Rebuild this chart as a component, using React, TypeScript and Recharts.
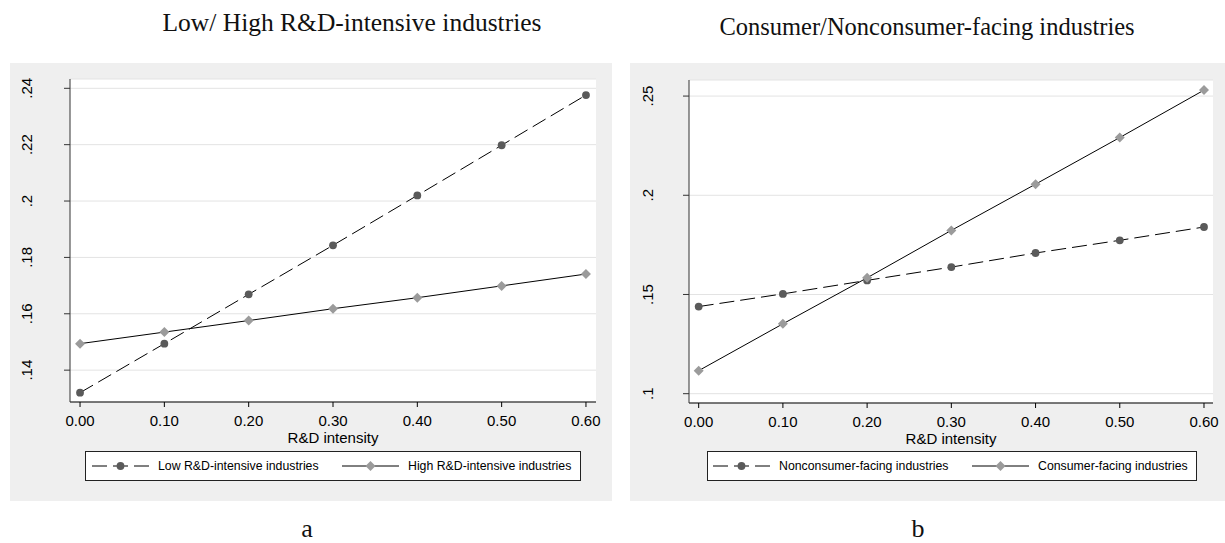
import React from 'react';
import { LineChart, Line, XAxis, YAxis, CartesianGrid } from 'recharts';

// R&D intensity grid used by both panels
const rdIntensity = [0, 0.1, 0.2, 0.3, 0.4, 0.5, 0.6];

// panel a
const lowRD = [0.132, 0.1494, 0.1669, 0.1843, 0.202, 0.2198, 0.2376];
const highRD = [0.1494, 0.1535, 0.1576, 0.1618, 0.1657, 0.1699, 0.1741];

// panel b
const nonConsumer = [0.1439, 0.1503, 0.1571, 0.1638, 0.1709, 0.1773, 0.184];
const consumer = [0.1116, 0.1352, 0.1584, 0.1823, 0.2056, 0.2291, 0.253];

const xTicks = [0, 0.1, 0.2, 0.3, 0.4, 0.5, 0.6];
const leftYTicks = [0.14, 0.16, 0.18, 0.2, 0.22, 0.24];
const rightYTicks = [0.1, 0.15, 0.2, 0.25];

const SANS = '"Liberation Sans", Arial, sans-serif';
const SERIF = '"Liberation Serif", "Times New Roman", serif';
const PANEL_BG = '#efefef';
const CIRCLE_FILL = '#5a5a5a';
const DIAMOND_FILL = '#9b9b9b';
const DASH = '15 6';

const toRows = (a: number[], b: number[]) =>
  rdIntensity.map((x, i) => ({ x, a: a[i], b: b[i] }));

const stataFmt = (v: number) => String(v).replace(/^0\./, '.');

const CircleDot = (props: any) => {
  const { cx, cy } = props;
  if (cx == null || cy == null) return null;
  return <circle cx={cx} cy={cy} r={3.9} fill={CIRCLE_FILL} />;
};

const DiamondDot = (props: any) => {
  const { cx, cy } = props;
  if (cx == null || cy == null) return null;
  const s = 5;
  return (
    <path
      d={`M${cx},${cy - s} L${cx + s},${cy} L${cx},${cy + s} L${cx - s},${cy} Z`}
      fill={DIAMOND_FILL}
    />
  );
};

const YTick = (props: any) => {
  const { x, y, payload } = props;
  return (
    <text
      x={x}
      y={y}
      transform={`rotate(-90, ${x}, ${y})`}
      textAnchor="middle"
      fontSize={15}
      fontFamily={SANS}
      fill="#000"
    >
      {stataFmt(payload.value)}
    </text>
  );
};

type LegendItem = { label: string; dashed: boolean; marker: 'circle' | 'diamond'; lineX: number; textX: number };

const LegendSample = ({ dashed, marker }: { dashed: boolean; marker: 'circle' | 'diamond' }) => (
  <svg width={57} height={12} style={{ position: 'absolute', left: 0, top: 8 }}>
    <line x1={0} y1={6} x2={57} y2={6} stroke="#000" strokeWidth={1} strokeDasharray={dashed ? DASH : undefined} />
    {marker === 'circle' ? <CircleDot cx={28.5} cy={6} /> : <DiamondDot cx={28.5} cy={6} />}
  </svg>
);

const LegendBox = ({ left, width, items }: { left: number; width: number; items: LegendItem[] }) => (
  <div
    style={{
      position: 'absolute',
      left,
      top: 388,
      width,
      height: 28,
      background: '#fff',
      border: '1px solid #222',
      fontFamily: SANS,
      fontSize: 12.3,
      color: '#000',
    }}
  >
    {items.map((it) => (
      <React.Fragment key={it.label}>
        <div style={{ position: 'absolute', left: it.lineX, top: 0, width: 57, height: 28 }}>
          <LegendSample dashed={it.dashed} marker={it.marker} />
        </div>
        <div style={{ position: 'absolute', left: it.textX, top: 7, whiteSpace: 'nowrap', lineHeight: '14px' }}>
          {it.label}
        </div>
      </React.Fragment>
    ))}
  </div>
);

type PanelProps = {
  left: number;
  width: number;
  plotLeft: number;
  plotRight: number;
  plotTop: number;
  xAxisHeight: number;
  yDomain: [number, number];
  yTicks: number[];
  yTickGap: number;
  xDomain: [number, number];
  data: { x: number; a: number; b: number }[];
  legendLeft: number;
  legendWidth: number;
  legendItems: LegendItem[];
  solidSeries: 'a' | 'b';
};

const PANEL_H = 438;

const Panel = (p: PanelProps) => (
  <div style={{ position: 'absolute', left: p.left, top: 63, width: p.width, height: PANEL_H, background: PANEL_BG }}>
    <LineChart
      width={p.width}
      height={PANEL_H}
      data={p.data}
      margin={{ top: p.plotTop, right: p.width - p.plotRight, left: 0, bottom: 0 }}
    >
      <CartesianGrid vertical={false} stroke="#e3e3e3" fill="#fff" />
      <XAxis
        dataKey="x"
        type="number"
        domain={p.xDomain}
        allowDataOverflow
        ticks={xTicks}
        tickFormatter={(v: number) => v.toFixed(2)}
        height={p.xAxisHeight}
        tickSize={5}
        tickMargin={8}
        stroke="#000"
        tick={{ fill: '#000', fontSize: 15, fontFamily: SANS }}
        label={{ value: 'R&D intensity', position: 'insideTop', offset: 30, fill: '#000', fontSize: 15, fontFamily: SANS }}
      />
      <YAxis
        type="number"
        domain={p.yDomain}
        allowDataOverflow
        ticks={p.yTicks}
        width={p.plotLeft}
        tickSize={6}
        tickMargin={p.yTickGap}
        stroke="#333"
        tick={<YTick />}
      />
      <Line
        dataKey={p.solidSeries === 'a' ? 'b' : 'a'}
        type="linear"
        stroke="#000"
        strokeWidth={1}
        strokeDasharray={DASH}
        dot={<CircleDot />}
        activeDot={false}
        isAnimationActive={false}
      />
      <Line
        dataKey={p.solidSeries}
        type="linear"
        stroke="#000"
        strokeWidth={1}
        dot={<DiamondDot />}
        activeDot={false}
        isAnimationActive={false}
      />
    </LineChart>
    <LegendBox left={p.legendLeft} width={p.legendWidth} items={p.legendItems} />
  </div>
);

export default function App() {
  return (
    <div style={{ position: 'absolute', left: 0, top: 0, width: 1225, height: 543, background: '#fff' }}>
      <Panel
        left={10}
        width={602}
        plotLeft={60}
        plotRight={586}
        plotTop={16}
        xAxisHeight={99}
        yDomain={[0.1287, 0.2433]}
        yTicks={leftYTicks}
        yTickGap={32}
        xDomain={[-0.0119, 0.6119]}
        data={toRows(lowRD, highRD)}
        solidSeries="b"
        legendLeft={75}
        legendWidth={494}
        legendItems={[
          { label: 'Low R&D-intensive industries', dashed: true, marker: 'circle', lineX: 6, textX: 72 },
          { label: 'High R&D-intensive industries', dashed: false, marker: 'diamond', lineX: 256, textX: 322 },
        ]}
      />
      <Panel
        left={630}
        width={595}
        plotLeft={59}
        plotRight={583}
        plotTop={17}
        xAxisHeight={98}
        yDomain={[0.0953, 0.2581]}
        yTicks={rightYTicks}
        yTickGap={30}
        xDomain={[-0.0115, 0.6107]}
        data={toRows(nonConsumer, consumer)}
        solidSeries="b"
        legendLeft={77}
        legendWidth={488}
        legendItems={[
          { label: 'Nonconsumer-facing industries', dashed: true, marker: 'circle', lineX: 5, textX: 71 },
          { label: 'Consumer-facing industries', dashed: false, marker: 'diamond', lineX: 264, textX: 330 },
        ]}
      />
      <svg width={1225} height={543} style={{ position: 'absolute', left: 0, top: 0, pointerEvents: 'none' }}>
        <text x={352} y={31} textAnchor="middle" fontFamily={SERIF} fontSize={25.5} fill="#111">
          Low/ High R&amp;D-intensive industries
        </text>
        <text x={927} y={35} textAnchor="middle" fontFamily={SERIF} fontSize={24.5} fill="#111">
          Consumer/Nonconsumer-facing industries
        </text>
        <text x={307} y={537} textAnchor="middle" fontFamily={SERIF} fontSize={26} fill="#111">
          a
        </text>
        <text x={918} y={537} textAnchor="middle" fontFamily={SERIF} fontSize={26} fill="#111">
          b
        </text>
      </svg>
    </div>
  );
}
